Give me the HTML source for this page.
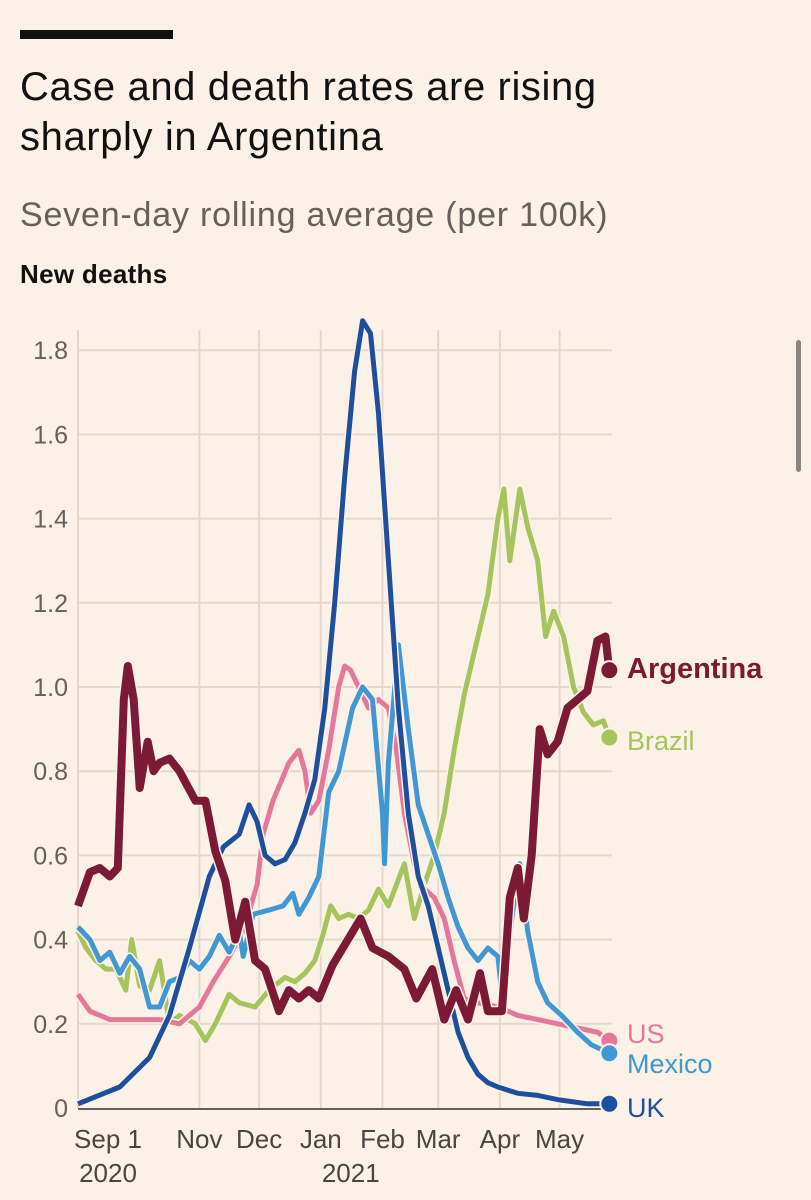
<!DOCTYPE html>
<html><head><meta charset="utf-8">
<style>
body{margin:0;background:#fcf1e6;width:811px;height:1200px;overflow:hidden;font-family:"Liberation Sans",sans-serif;}
.abs{position:absolute;}
</style></head>
<body>
<div class="abs" style="left:20px;top:30px;width:153px;height:9px;background:#111;"></div>
<div class="abs" style="left:20px;top:62px;font-size:40px;line-height:50px;color:#111;letter-spacing:0.6px;">Case and death rates are rising<br>sharply in Argentina</div>
<div class="abs" style="left:20px;top:196px;font-size:34px;color:#66605a;letter-spacing:0.8px;">Seven-day rolling average (per 100k)</div>
<div class="abs" style="left:20px;top:259px;font-size:26px;font-weight:bold;color:#111;letter-spacing:0.3px;">New deaths</div>
<div class="abs" style="left:796px;top:340px;width:5px;height:132px;border-radius:3px;background:#8a8580;"></div>
<svg class="abs" style="left:0;top:0" width="811" height="1200" id="chart"></svg>
<script>
const yTicks=[0,0.2,0.4,0.6,0.8,1.0,1.2,1.4,1.6,1.8];
const yTickLabels=["0","0.2","0.4","0.6","0.8","1.0","1.2","1.4","1.6","1.8"];
const monthDays=[0,61,91,122,153,181,212,242];
const monthLabels=["Sep 1","Nov","Dec","Jan","Feb","Mar","Apr","May"];
const ukDays=[0,21,36,46,56,66,73,81,86,90,94,99,104,109,114,119,124,129,134,139,143,147,151,156,161,166,171,176,181,186,191,196,201,206,211,221,231,241,256,267];
const ukVals=[0.01,0.05,0.12,0.22,0.38,0.55,0.62,0.65,0.72,0.68,0.6,0.58,0.59,0.63,0.7,0.78,0.95,1.2,1.5,1.75,1.87,1.84,1.65,1.3,0.95,0.7,0.55,0.48,0.38,0.28,0.18,0.12,0.08,0.06,0.05,0.035,0.03,0.02,0.01,0.01];
const usDays=[0,6,16,31,41,51,61,68,76,83,90,93,98,106,111,114,117,121,126,131,134,137,141,146,151,156,160,164,169,174,179,184,189,194,201,211,221,231,241,251,261,267];
const usVals=[0.27,0.23,0.21,0.21,0.21,0.2,0.24,0.3,0.36,0.42,0.53,0.65,0.73,0.82,0.85,0.8,0.7,0.73,0.85,1.0,1.05,1.04,1.0,0.95,0.97,0.95,0.85,0.7,0.58,0.52,0.5,0.45,0.35,0.26,0.25,0.24,0.22,0.21,0.2,0.19,0.18,0.16];
const mxDays=[0,6,11,16,21,26,31,36,41,46,51,56,61,66,71,76,81,83,88,96,103,108,111,116,121,126,131,138,143,148,153,154,156,161,166,171,176,181,186,191,196,201,206,211,213,218,222,226,231,236,243,251,258,267];
const mxVals=[0.43,0.4,0.35,0.37,0.32,0.36,0.33,0.24,0.24,0.3,0.31,0.35,0.33,0.36,0.41,0.37,0.42,0.36,0.46,0.47,0.48,0.51,0.46,0.5,0.55,0.75,0.8,0.95,1.0,0.97,0.7,0.58,0.82,1.1,0.9,0.72,0.65,0.58,0.5,0.43,0.38,0.35,0.38,0.36,0.27,0.45,0.58,0.42,0.3,0.25,0.22,0.18,0.15,0.13];
const brDays=[0,4,9,14,19,24,27,31,36,41,46,51,59,64,69,76,81,89,96,104,109,114,119,123,127,131,136,141,146,151,156,160,164,169,174,179,184,189,194,199,206,211,214,217,222,226,231,235,239,244,249,254,259,264,267];
const brVals=[0.42,0.38,0.35,0.33,0.33,0.28,0.4,0.29,0.28,0.35,0.2,0.22,0.2,0.16,0.2,0.27,0.25,0.24,0.28,0.31,0.3,0.32,0.35,0.41,0.48,0.45,0.46,0.45,0.47,0.52,0.48,0.53,0.58,0.45,0.53,0.6,0.7,0.85,0.98,1.08,1.22,1.4,1.47,1.3,1.47,1.38,1.3,1.12,1.18,1.12,1.0,0.94,0.91,0.92,0.88];
const arDays=[0,6,11,16,20,23,25,28,31,35,38,41,46,51,59,64,69,74,79,84,89,94,101,106,111,116,121,128,142,148,156,164,170,178,184,190,196,202,206,213,217,221,224,228,232,236,241,246,251,256,261,265,267];
const arVals=[0.48,0.56,0.57,0.55,0.57,0.97,1.05,0.97,0.76,0.87,0.8,0.82,0.83,0.8,0.73,0.73,0.61,0.54,0.4,0.49,0.35,0.33,0.23,0.28,0.26,0.28,0.26,0.34,0.45,0.38,0.36,0.33,0.26,0.33,0.21,0.28,0.21,0.32,0.23,0.23,0.5,0.57,0.45,0.6,0.9,0.84,0.87,0.95,0.97,0.99,1.11,1.12,1.04];
const series=[
 {name:"brazil",days:brDays,vals:brVals,color:"#a5c45c",w:5,label:"Brazil",ly:740,bold:false},
 {name:"us",days:usDays,vals:usVals,color:"#e5779b",w:5,label:"US",ly:1033,bold:false},
 {name:"mexico",days:mxDays,vals:mxVals,color:"#3f97d3",w:5,label:"Mexico",ly:1063,bold:false},
 {name:"uk",days:ukDays,vals:ukVals,color:"#1e4f9c",w:5,label:"UK",ly:1107,bold:false},
 {name:"argentina",days:arDays,vals:arVals,color:"#7c1a36",w:8,label:"Argentina",ly:668,bold:true}
];
const NS="http://www.w3.org/2000/svg";
const svg=document.getElementById('chart');
const X=d=>78+d*1.99;
const Y=v=>1108-v*421;
function mk(t,a){const e=document.createElementNS(NS,t);for(const k in a)e.setAttribute(k,a[k]);svg.appendChild(e);return e;}
yTicks.forEach((t,i)=>{
 if(t>0){const g=mk('line',{x1:78,x2:612,y1:Y(t),y2:Y(t),stroke:'#e5d8cb','stroke-width':2});
 
 }
 const tx=mk('text',{x:68,y:Y(t)+9,'text-anchor':'end','font-size':25,fill:'#66605a','font-family':'Liberation Sans'});
 tx.textContent=yTickLabels[i];
 
 
});
monthDays.forEach((d,i)=>{
 const g=mk('line',{x1:X(d),x2:X(d),y1:330,y2:1108,stroke:'#e5d8cb','stroke-width':2});
 
 
 const tx=mk('text',{x:X(d)+(i==0?30:0),y:1148,'text-anchor':'middle','font-size':26,fill:'#4a4540','font-family':'Liberation Sans'});
 tx.textContent=monthLabels[i];
 
 
});
[[0,"2020"],[122,"2021"]].forEach(([d,l])=>{
 const tx=mk('text',{x:X(d)+30,y:1182,'text-anchor':'middle','font-size':26,fill:'#4a4540','font-family':'Liberation Sans'});
 tx.textContent=l;
 
 
});
const ax=mk('line',{x1:78,x2:612,y1:1109,y2:1109,stroke:'#66605a','stroke-width':2});


series.forEach(s=>{
 const pts=s.days.map((d,i)=>X(d).toFixed(1)+','+Y(s.vals[i]).toFixed(1)).join(' ');
 const halo=mk('polyline',{points:pts,fill:'none',stroke:'#fcf1e6','stroke-width':s.w+3,'stroke-linejoin':'round'});
 
 
 const p=mk('polyline',{points:pts,fill:'none',stroke:s.color,'stroke-width':s.w,'stroke-linejoin':'round'});
 
 
 const n=s.days.length-1;
 const c=mk('circle',{cx:X(s.days[n]),cy:Y(s.vals[n]),r:9,fill:s.color,stroke:'#fcf1e6','stroke-width':2});
 
 
 const t=mk('text',{x:627,y:s.ly+10,'font-size':s.bold?29:27,'font-weight':s.bold?'bold':'normal',fill:s.color,'font-family':'Liberation Sans'});
 t.textContent=s.label;
 
 
});
</script>
</body></html>
